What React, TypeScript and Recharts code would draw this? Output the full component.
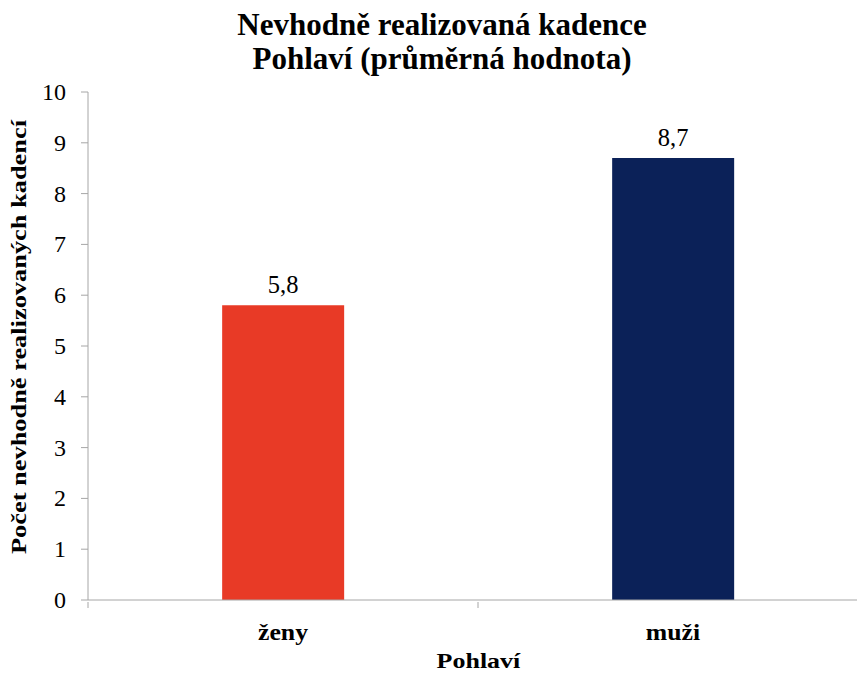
import React from 'react';
import { BarChart, Bar, XAxis, YAxis, Cell, LabelList } from 'recharts';

const categories = ['ženy', 'muži'];
const values = [5.8, 8.7];
const barColors = ['#E83A26', '#0B2158'];
const yTicks = [0, 1, 2, 3, 4, 5, 6, 7, 8, 9, 10];

const data = categories.map((name, i) => ({ name, value: values[i] }));

const FONT = 'Liberation Serif, Times New Roman, DejaVu Serif, serif';
const AXIS = '#A6A6A6';
const txt = (size: number, bold = false) => ({
  fontFamily: FONT,
  fontSize: size,
  fontWeight: bold ? 700 : 400,
  fill: '#000',
});

// x ticks sit on the category boundaries, labels in the middle
const XTick = (props: any) => {
  const { x, y, payload, index } = props;
  const half = payload.offset || 0;
  const top = y - 8;
  return (
    <g>
      <line x1={x - half} x2={x - half} y1={top} y2={top + 6} stroke={AXIS} />
      {index === categories.length - 1 && (
        <line x1={x + half} x2={x + half} y1={top} y2={top + 6} stroke={AXIS} />
      )}
      <text
        transform={`translate(${x} ${y + 30}) scale(1.12 1)`}
        textAnchor="middle"
        fontFamily={FONT}
        style={txt(23, true)}
      >
        {payload.value}
      </text>
    </g>
  );
};

const YTick = (props: any) => {
  const { x, y, payload } = props;
  return (
    <text x={x} y={y + 8} textAnchor="end" fontFamily={FONT} style={txt(24)}>
      {payload.value}
    </text>
  );
};

const fmt = (v: any) => String(v).replace('.', ',');

const App = () => {
  return (
    <div
      style={{
        position: 'fixed',
        top: 0,
        left: 0,
        width: 857,
        height: 675,
        overflow: 'hidden',
        background: '#fff',
        fontFamily: FONT,
      }}
    >
      <div
        style={{
          position: 'absolute',
          top: 8,
          left: 0,
          width: 884,
          textAlign: 'center',
          fontWeight: 'bold',
          fontSize: 31,
          lineHeight: '34px',
          color: '#000',
        }}
      >
        <div>Nevhodně realizovaná kadence</div>
        <div>Pohlaví (průměrná hodnota)</div>
      </div>
      <div
        style={{
          position: 'absolute',
          top: 650,
          left: 88,
          width: 780,
          textAlign: 'center',
          fontWeight: 'bold',
          fontSize: 22,
          lineHeight: '22px',
          color: '#000',
        }}
      >
        <span style={{ display: 'inline-block', transform: 'scaleX(1.18)' }}>Pohlaví</span>
      </div>
      <BarChart
        width={868}
        height={675}
        data={data}
        margin={{ top: 92, right: 0, left: 0, bottom: 0 }}
        barCategoryGap="34.4%"
        style={{ fontFamily: FONT }}
      >
        <XAxis
          dataKey="name"
          height={75}
          stroke={AXIS}
          tickLine={false}
          tickSize={8}
          tickMargin={2}
          tick={<XTick />}
        />
        <YAxis
          width={88}
          domain={[0, 10]}
          ticks={yTicks}
          interval={0}
          stroke={AXIS}
          tickSize={7}
          tickMargin={15}
          tick={<YTick />}
          label={{
            content: (p: any) => {
              const vb = p.viewBox;
              const cx = 26;
              const cy = vb.y + vb.height / 2 - 9;
              return (
                <text
                  transform={`translate(${cx} ${cy}) rotate(-90) scale(1.2 1)`}
                  textAnchor="middle"
                  fontFamily={FONT}
                  style={txt(22, true)}
                >
                  Počet nevhodně realizovaných kadencí
                </text>
              );
            },
          }}
        />
        <Bar dataKey="value" isAnimationActive={false}>
          {data.map((d, i) => (
            <Cell key={d.name} fill={barColors[i]} />
          ))}
          <LabelList
            dataKey="value"
            position="top"
            content={(p: any) => (
              <text x={p.x + p.width / 2} y={p.y - 12} textAnchor="middle" fontFamily={FONT} style={txt(24.5)}>
                {fmt(p.value)}
              </text>
            )}
          />
        </Bar>
      </BarChart>
    </div>
  );
};

export default App;
